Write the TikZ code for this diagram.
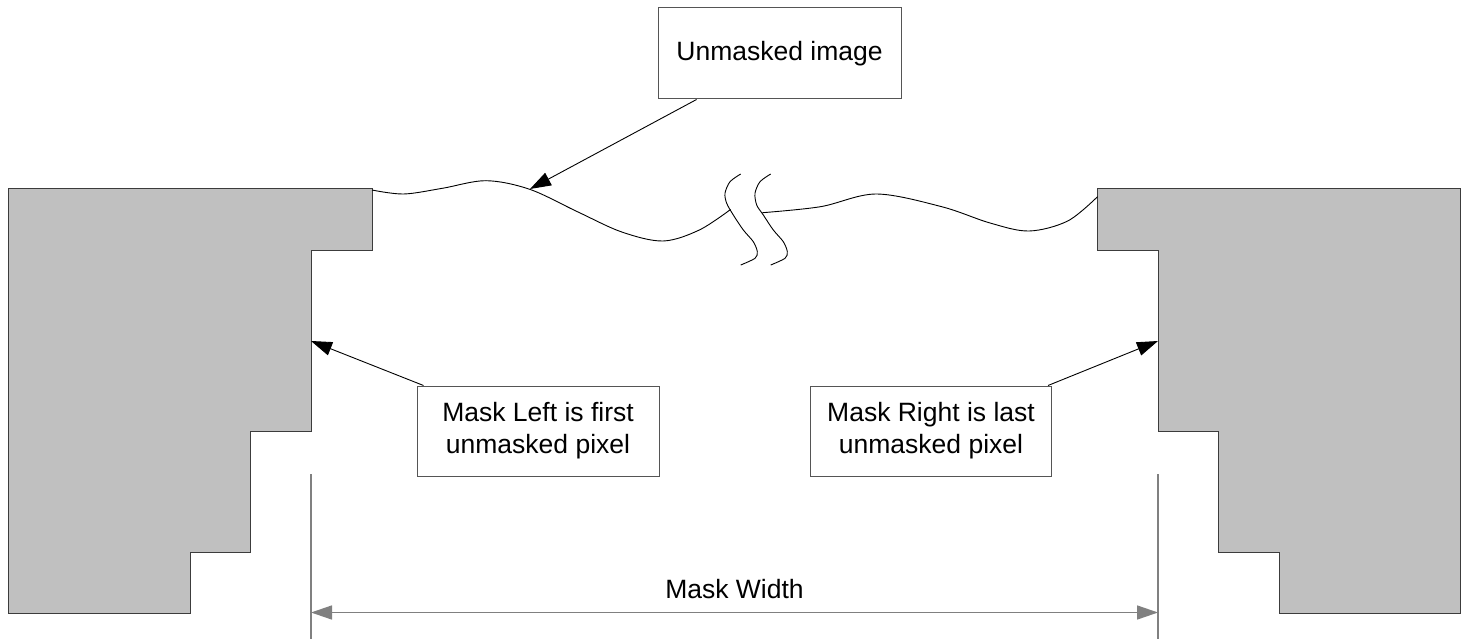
\documentclass[tikz,border=0pt]{standalone}
\usepackage{fontspec}
\setmainfont{Liberation Sans}
\usetikzlibrary{arrows.meta,calc}
\definecolor{maskfill}{RGB}{192,192,192}
\definecolor{maskline}{RGB}{60,60,60}
\definecolor{boxline}{RGB}{85,85,85}
\definecolor{dimline}{RGB}{128,128,128}
\tikzset{
  maskshape/.style={fill=maskfill,draw=maskline,line width=1pt,line join=miter},
  labelbox/.style={draw=boxline,line width=1pt,inner sep=0pt,align=center,
    font=\fontsize{26.5}{32}\selectfont},
  pointer/.style={draw=black,line width=0.9pt,-{Triangle[length=21pt,width=14pt]}},
  dimarrow/.style={draw=dimline,line width=1.5pt,-{Triangle[length=21pt,width=14pt]},color=dimline},
  dimext/.style={draw=dimline,line width=1.2pt},
  wave/.style={draw=black,line width=0.9pt}
}
\begin{document}
\begin{tikzpicture}[x=1pt,y=-1pt]
\useasboundingbox (0,0) rectangle (1466,639);
% mask shapes
\draw[maskshape] (8,189) -- (372,189) -- (372,250) -- (311,250) -- (311,431) -- (250,431)
  -- (250,552) -- (190,552) -- (190,613) -- (8,613) -- cycle;
\draw[maskshape] (1097,189) -- (1460,189) -- (1460,613) -- (1279,613) -- (1279,552)
  -- (1218,552) -- (1218,431) -- (1158,431) -- (1158,250) -- (1097,250) -- cycle;
% wavy image edge
\draw[wave] plot[smooth,tension=0.55] coordinates {(372,190) (403.6,194) (442.4,188.3)
  (486,180.7) (529.7,189.3) (578,212) (621.8,232) (663,241) (699.3,230) (730.5,209.5)};
\draw[wave] plot[smooth,tension=0.55] coordinates {(762.5,212.7) (820.5,206.7) (876.2,194)
  (941.7,206.7) (990,223) (1029,231) (1067.7,221) (1097.5,196.7)};
% break marks
\draw[wave] plot[smooth,tension=0.5] coordinates {(740.7,174) (730,181.7) (725,193.3)
  (726.7,203.3) (733.3,215) (743.3,230) (753.3,241.7) (757.3,251.7) (755,258.3) (740.7,265)};
\draw[wave] plot[smooth,tension=0.5] coordinates {(770.7,174) (760,181.7) (755,193.3)
  (756.7,205) (763.3,215) (773.3,230) (783.3,241.7) (787.3,251.7) (785,258.3) (770.7,265)};
% text boxes
\node[labelbox,minimum width=243pt,minimum height=91pt] (um) at (779.5,53.5) {Unmasked image};
\node[labelbox,minimum width=242pt,minimum height=90pt] (ml) at (538,431) {Mask Left is first\\unmasked pixel};
\node[labelbox,minimum width=241pt,minimum height=90pt] (mr) at (931,431) {Mask Right is last\\unmasked pixel};
% pointer targets
\coordinate (wavept) at (530,189);
\coordinate (lefttgt) at (311,341);
\coordinate (righttgt) at (1158,341);
\draw[pointer] ($(um.south west)!0.16!(um.south east)$) -- (wavept);
\draw[pointer] ($(ml.north west)+(7,0)$) -- (lefttgt);
\draw[pointer] ($(mr.north east)+(-4,0)$) -- (righttgt);
% dimension
\coordinate (dl) at (311,474);
\coordinate (dlb) at (311,639);
\coordinate (dr) at (1158,474);
\coordinate (drb) at (1158,639);
\draw[dimext] (dl) -- (dlb);
\draw[dimext] (dr) -- (drb);
\coordinate (dimL) at (311,612.5);
\coordinate (dimR) at (1158,612.5);
\coordinate (dimM) at (734.5,612.5);
\draw[dimarrow] (dimM) -- (dimL);
\draw[dimarrow] (dimM) -- (dimR);
\node[font=\fontsize{26.5}{32}\selectfont,anchor=base,inner sep=0pt] (mw) at (734.5,598) {Mask Width};
\end{tikzpicture}
\end{document}
